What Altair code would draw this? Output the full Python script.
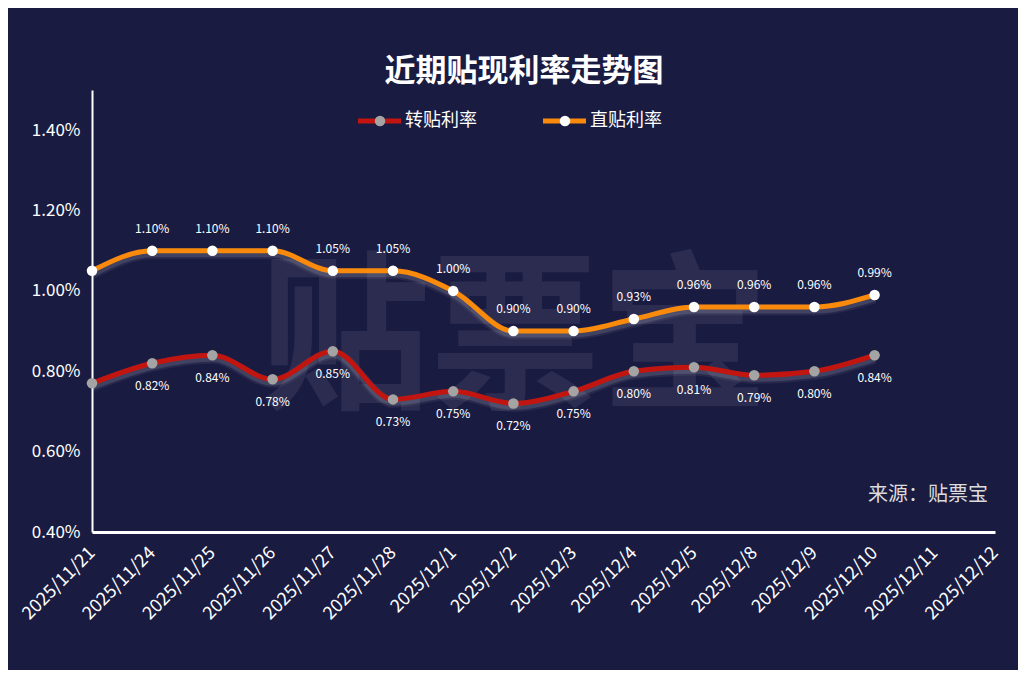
import altair as alt
import pandas as pd

dates = ["2025/11/21", "2025/11/24", "2025/11/25", "2025/11/26", "2025/11/27",
         "2025/11/28", "2025/12/1", "2025/12/2", "2025/12/3", "2025/12/4",
         "2025/12/5", "2025/12/8", "2025/12/9", "2025/12/10", "2025/12/11",
         "2025/12/12"]
zhuantie = [0.77, 0.82, 0.84, 0.78, 0.85, 0.73, 0.75, 0.72, 0.75, 0.80, 0.81, 0.79, 0.80, 0.84]
zhitie = [1.05, 1.10, 1.10, 1.10, 1.05, 1.05, 1.00, 0.90, 0.90, 0.93, 0.96, 0.96, 0.96, 0.99]
series = ["转贴利率", "直贴利率"]
line_colors = ["#c3150f", "#f98a0c"]
point_colors = ["#a4a4a4", "#ffffff"]
y_ticks = [0.4, 0.6, 0.8, 1.0, 1.2, 1.4]
title_text = "近期贴现利率走势图"
source_text = "来源：贴票宝"
watermark_text = "贴票宝"

FONT = "Noto Sans CJK SC"
BG = "#1a1b41"

rows = []
for name, vals in zip(series, [zhuantie, zhitie]):
    for i, v in enumerate(vals):
        rows.append({"date": dates[i], "idx": i, "series": name, "value": v})
df = pd.DataFrame(rows)

W, H = 903, 442

x_enc = alt.X("date:N", sort=dates,
              scale=alt.Scale(type="point", domain=dates, padding=0),
              axis=alt.Axis(title=None, labelAngle=-45, labelAlign="right",
                            labelBaseline="middle", labelPadding=18,
                            labelColor="white", labelFontSize=18, labelFont=FONT,
                            ticks=False, grid=False, domainColor="white",
                            domainWidth=3, labelOverlap=False))
y_enc = alt.Y("value:Q",
              scale=alt.Scale(domain=[0.4, 1.5], nice=False, zero=False),
              axis=alt.Axis(title=None, values=y_ticks,
                            labelExpr="format(datum.value, '.2f') + '%'",
                            ticks=False, grid=False, domainColor="white",
                            domainWidth=2, labelColor="white", labelFontSize=17,
                            labelFont=FONT, labelPadding=12))
line_color = alt.Color("series:N", scale=alt.Scale(domain=series, range=line_colors), legend=None)

base = alt.Chart(df)

glow_wide = base.mark_line(interpolate="monotone", strokeWidth=11, opacity=0.06,
                           color="white", yOffset=3).encode(
    x=x_enc, y=y_enc, detail="series:N")
glow_narrow = base.mark_line(interpolate="monotone", strokeWidth=7, opacity=0.12,
                             color="white", yOffset=3).encode(
    x=x_enc, y=y_enc, detail="series:N")

lines = base.mark_line(interpolate="monotone", strokeWidth=5).encode(
    x=x_enc, y=y_enc, color=line_color)

points = base.mark_circle(size=110, opacity=1).encode(
    x=x_enc, y=y_enc,
    fill=alt.Fill("series:N", scale=alt.Scale(domain=series, range=point_colors), legend=None))

lbl = base.transform_filter("datum.idx > 0").transform_calculate(
    label="format(datum.value, '.2f') + '%'")

labels_top = lbl.transform_filter(alt.datum.series == series[1]).mark_text(
    dy=-22, fontSize=12, color="white", font=FONT).encode(
    x=x_enc, y=y_enc, text="label:N")
labels_bot = lbl.transform_filter(alt.datum.series == series[0]).mark_text(
    dy=23, fontSize=12, color="white", font=FONT).encode(
    x=x_enc, y=y_enc, text="label:N")

# decorations
deco = alt.Chart(pd.DataFrame({"t": [0]}))
watermark = deco.mark_text(text=watermark_text, fontSize=170, fontWeight="bold",
                           color="#ffffff", opacity=0.075, font=FONT,
                           align="center", baseline="middle").encode(
    x=alt.value(423), y=alt.value(255))
title = deco.mark_text(text=title_text, fontSize=31, fontWeight="bold",
                       color="white", font=FONT, align="center",
                       baseline="middle").encode(
    x=alt.value(432), y=alt.value(-18))
source = deco.mark_text(text=source_text, fontSize=20, color="#dcdcdc",
                        font=FONT, align="right", baseline="middle").encode(
    x=alt.value(896), y=alt.value(405))

# legend
leg_parts = []
for i, name in enumerate(series):
    x0 = 266 + i * 185
    leg_parts.append(deco.mark_rule(strokeWidth=5, color=line_colors[i]).encode(
        x=alt.value(x0), x2=alt.value(x0 + 43), y=alt.value(31)))
    leg_parts.append(deco.mark_circle(size=110, opacity=1, color=point_colors[i]).encode(
        x=alt.value(x0 + 22), y=alt.value(31)))
    leg_parts.append(deco.mark_text(text=name, fontSize=18, color="white", font=FONT,
                                    align="left", baseline="middle").encode(
        x=alt.value(x0 + 47), y=alt.value(31)))

chart = alt.layer(watermark, glow_wide, glow_narrow, lines, points, labels_top,
                  labels_bot, title, source, *leg_parts).properties(
    width=W, height=H,
    padding={"left": 84, "top": 82, "right": 23, "bottom": 138},
    autosize=alt.AutoSizeParams(type="none"),
    background=BG,
).configure_view(stroke=None)

chart.save("out.html", embed_options={"renderer": "svg", "actions": False})
